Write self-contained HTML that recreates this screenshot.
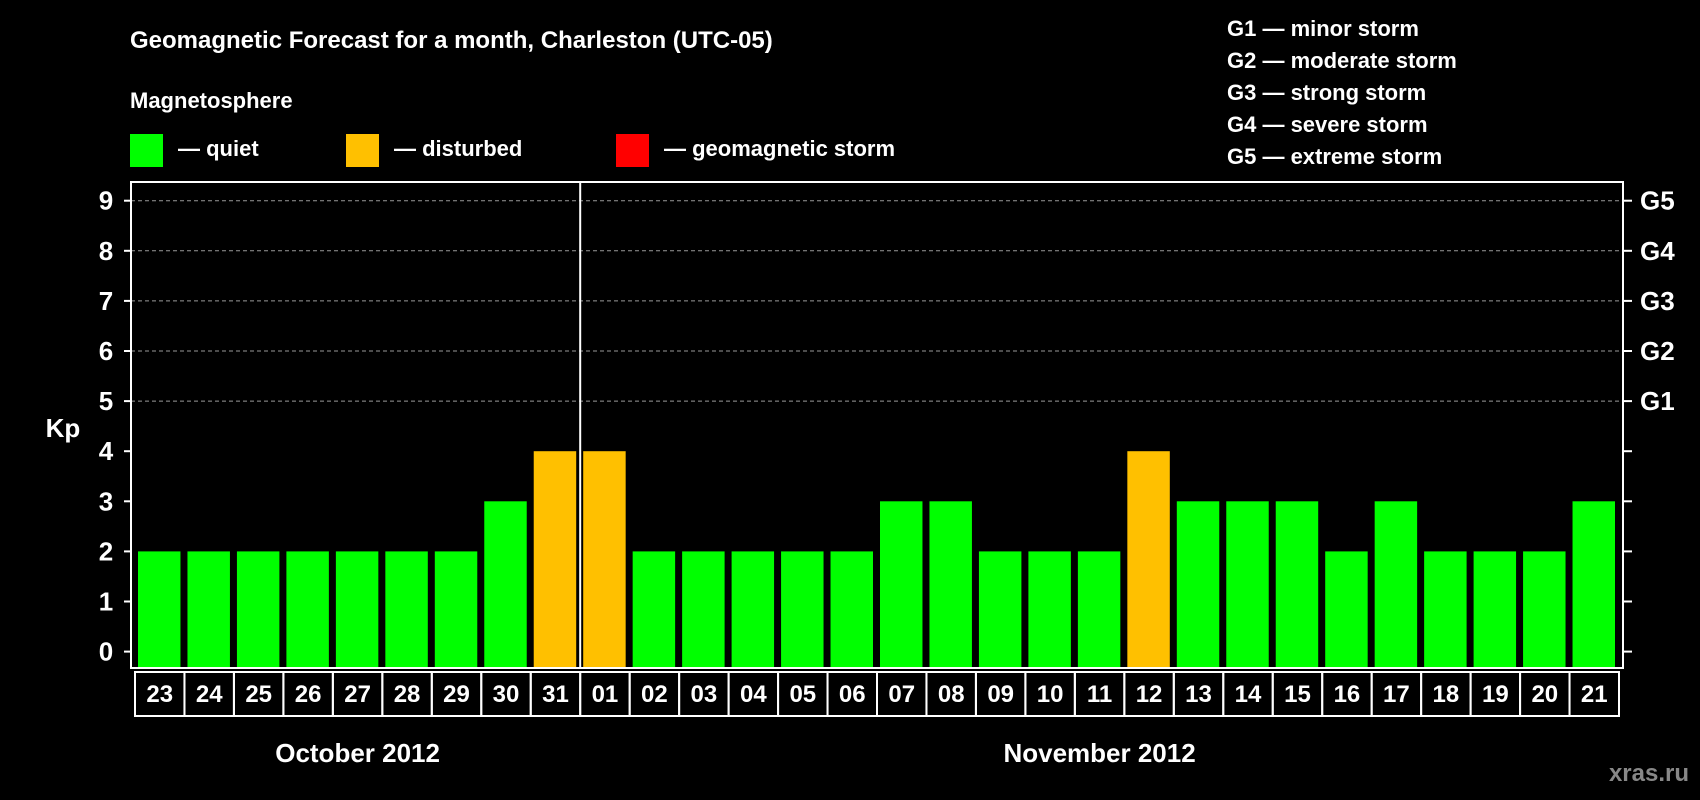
<!DOCTYPE html>
<html><head><meta charset="utf-8"><style>
html,body{margin:0;padding:0;background:#000;}
svg{display:block;font-family:"Liberation Sans",Arial,sans-serif;font-weight:bold;}
</style></head><body>
<svg id="chart" width="1700" height="800" viewBox="0 0 1700 800">
<rect x="0" y="0" width="1700" height="800" fill="#000"/>
<text x="130" y="48" fill="#fff" font-size="24">Geomagnetic Forecast for a month, Charleston (UTC-05)</text>
<text x="130" y="108" fill="#fff" font-size="22">Magnetosphere</text>
<g>
<rect x="130" y="134" width="33" height="33" fill="#00ff00"/>
<text x="178" y="156" fill="#fff" font-size="22">— quiet</text></g>
<g>
<rect x="346" y="134" width="33" height="33" fill="#ffc000"/>
<text x="394" y="156" fill="#fff" font-size="22">— disturbed</text></g>
<g>
<rect x="616" y="134" width="33" height="33" fill="#ff0000"/>
<text x="664" y="156" fill="#fff" font-size="22">— geomagnetic storm</text></g>
<g font-size="22" fill="#fff">
<text x="1227" y="36">G1 — minor storm</text>
<text x="1227" y="68">G2 — moderate storm</text>
<text x="1227" y="100">G3 — strong storm</text>
<text x="1227" y="132">G4 — severe storm</text>
<text x="1227" y="164">G5 — extreme storm</text>
</g>
<text x="63" y="437" fill="#fff" font-size="26" text-anchor="middle">Kp</text>
<text x="1689" y="781" fill="#888" font-size="24" text-anchor="end">xras.ru</text>
<g id="grid"></g><g id="bars"></g><g id="axes"></g>
</svg>
<script>
const days = ["23","24","25","26","27","28","29","30","31","01","02","03","04","05","06","07","08","09","10","11","12","13","14","15","16","17","18","19","20","21","22"].slice(0,30);
const kpValues = [2,2,2,2,2,2,2,3,4,4,2,2,2,2,2,3,3,2,2,2,4,3,3,3,2,3,2,2,2,3,3].slice(0,30);
const yTicks = [0,1,2,3,4,5,6,7,8,9];
const gLabels = ["G1","G2","G3","G4","G5"];
const gLevels = [5,6,7,8,9];
const months = ["October 2012","November 2012"];
const monthStartIndex = [0,9];
</script>
<script>
// fix days array (30 days: 23..31 Oct, 01..22 Nov)
const dayList = ["23","24","25","26","27","28","29","30","31","01","02","03","04","05","06","07","08","09","10","11","12","13","14","15","16","17","18","19","20","21","22"];
const NS="http://www.w3.org/2000/svg";
const L=131,R=1623,T=182,B=668;
const y=v=>651.6-v*50.1;
const n=dayList.length-1; // 30
const pitch=(R-L-8)/30;
const x0=L+4;
const x=i=>x0+i*pitch;
function mk(tag,attrs,parent){const e=document.createElementNS(NS,tag);for(const k in attrs)e.setAttribute(k,attrs[k]);parent.appendChild(e);return e;}
const grid=document.getElementById('grid'),bars=document.getElementById('bars'),axes=document.getElementById('axes');
yTicks.forEach(v=>{
 if(v>=5){const g=mk('line',{x1:L,x2:R,y1:y(v),y2:y(v),stroke:'#999','stroke-dasharray':'4,3','stroke-width':1},grid);
 
 }
 const t=mk('line',{x1:L-7,x2:L,y1:y(v),y2:y(v),stroke:'#fff','stroke-width':2},axes);
 
 
 const t2=mk('line',{x1:R,x2:R+9,y1:y(v),y2:y(v),stroke:'#fff','stroke-width':2},axes);
 
 
 const lb=mk('text',{x:106,y:y(v)+9,fill:'#fff','font-size':26,'text-anchor':'middle'},axes);
 lb.textContent=v;
 
 
});
gLabels.forEach((g,i)=>{
 const lb=mk('text',{x:1640,y:y(gLevels[i])+9,fill:'#fff','font-size':26},axes);
 lb.textContent=g;
 
 
});
for(let i=0;i<30;i++){
 const v=kpValues[i];
 const col=v>=5?'#ff0000':(v>=4?'#ffc000':'#00ff00');
 const b=mk('rect',{x:x(i)+3,y:y(v),width:pitch-7,height:B-y(v)-1,fill:col},bars);
 
 
 const c=mk('rect',{x:x(i),y:672,width:pitch,height:44,fill:'none',stroke:'#fff','stroke-width':2},axes);
 
 
 const t=mk('text',{x:x(i)+pitch/2,y:702,fill:'#fff','font-size':24,'text-anchor':'middle'},axes);
 t.textContent=dayList[i];
 
 
}
const fr=mk('rect',{x:L,y:T,width:R-L,height:B-T,fill:'none',stroke:'#fff','stroke-width':2},axes);


const dv=mk('line',{x1:x(9),x2:x(9),y1:T,y2:B,stroke:'#fff','stroke-width':2},axes);


const mEnd=[9,30];
months.forEach((m,i)=>{
 const cx=(x(monthStartIndex[i])+x(mEnd[i]))/2;
 const t=mk('text',{x:cx,y:762,fill:'#fff','font-size':26,'text-anchor':'middle'},axes);
 t.textContent=m;
 
 
});
</script>
</body></html>
